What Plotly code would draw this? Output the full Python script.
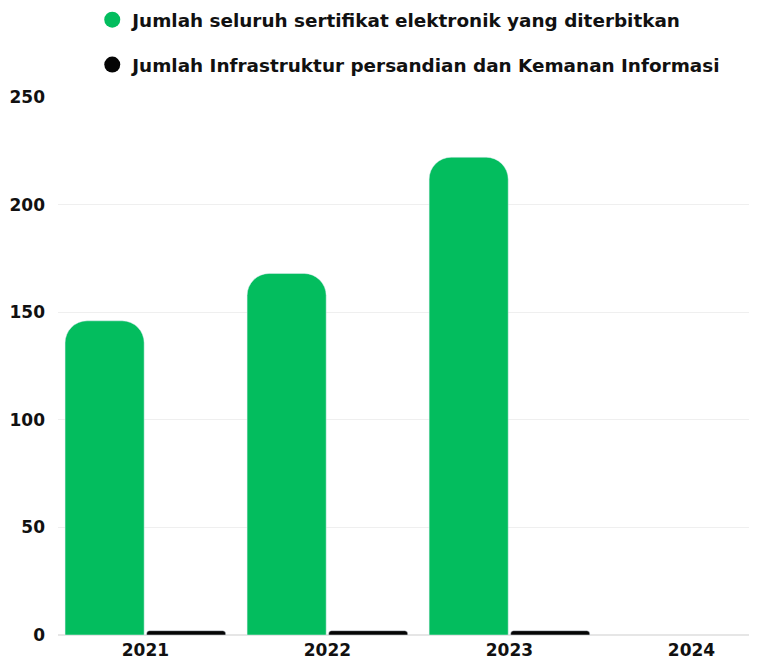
import plotly.graph_objects as go

years = ["2021", "2022", "2023", "2024"]
sertifikat = [146, 168, 222, None]
infrastruktur = [2, 2, 2, None]
name_green = "Jumlah seluruh sertifikat elektronik yang diterbitkan"
name_black = "Jumlah Infrastruktur persandian dan Kemanan Informasi"
green = "#03BD5E"
black = "#050505"

fig = go.Figure()
fig.add_trace(go.Bar(x=years, y=sertifikat, name=name_green, marker=dict(color=green, cornerradius=22),
                     showlegend=False))
fig.add_trace(go.Bar(x=years, y=infrastruktur, name=name_black, marker=dict(color=black, cornerradius=3),
                     showlegend=False))
fig.add_trace(go.Scatter(x=[None], y=[None], mode="markers", name=name_green,
                         marker=dict(color=green, size=16, symbol="circle"), legendgroup="a"))
fig.add_trace(go.Scatter(x=[None], y=[None], mode="markers", name=name_black,
                         marker=dict(color=black, size=16, symbol="circle"), legendgroup="b"))

font = "DejaVu Sans"
fig.update_layout(
    width=749, height=651,
    margin=dict(l=50, r=0, t=89, b=24, autoexpand=False),
    paper_bgcolor="white", plot_bgcolor="white",
    barmode="group", bargap=0.104, bargroupgap=0.03,
    font=dict(family=font, size=17, color="black", weight=700),
    legend=dict(x=0.049, y=1.178, xref="paper", yref="paper", xanchor="left", yanchor="top",
                orientation="v", tracegroupgap=18, traceorder="grouped",
                font=dict(family=font, size=18.4, color="#111", weight=700)),
    xaxis=dict(range=[-0.48, 3.36], showgrid=False, showline=False, ticks="", ticklen=0,
               ticklabelstandoff=3,
               tickfont=dict(family=font, size=17, color="#111", weight=700)),
    yaxis=dict(range=[0, 250], dtick=50, showgrid=True, gridcolor="#EFEFEF", gridwidth=1,
               zeroline=True, zerolinecolor="#E6E6E6", showline=False, ticklabelstandoff=12,
               tickfont=dict(family=font, size=17, color="#111", weight=700)),
)
fig.write_html("out.html")
